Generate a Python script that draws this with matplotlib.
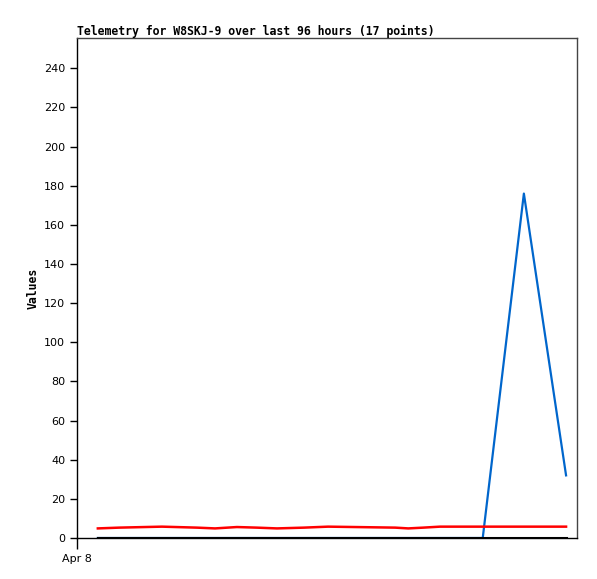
import matplotlib
matplotlib.use("Agg")
import matplotlib.pyplot as plt

# hours since Apr 8 00:00 (axis spans 96 hours)
hours = [4.0, 8.1, 16.3, 23.0, 26.5, 30.7, 34.5, 38.4, 43.6, 48.2, 61.1, 63.6, 66.5, 69.7, 77.9, 85.8, 93.9]
red = [4.9, 5.3, 5.8, 5.3, 4.9, 5.6, 5.3, 4.9, 5.3, 5.8, 5.3, 4.9, 5.3, 5.8, 5.8, 5.8, 5.8]
blue = [0, 0, 0, 0, 0, 0, 0, 0, 0, 0, 0, 0, 0, 0, 0, 176, 32]
black = [0] * 17

fig = plt.figure(figsize=(5.97, 5.79), dpi=100)
ax = fig.add_axes([77 / 597, 1 - 538 / 579, 500 / 597, 500 / 579])

ax.plot(hours, blue, color="#0066cc", lw=1.6)
ax.plot(hours, red, color="#ff0000", lw=1.8)
ax.plot(hours, black, color="#000000", lw=2.2)

ax.set_xlim(0, 96)
ax.set_ylim(0, 255.5)
ax.set_yticks(range(0, 241, 20))
ax.set_xticks([0])
ax.set_xticklabels(["Apr 8"])
ax.tick_params(axis="both", direction="out", length=5, width=1, labelsize=8)
ax.tick_params(axis="x", length=8)

for s in ["top", "right"]:
    ax.spines[s].set_color("#444444")
for s in ax.spines.values():
    s.set_linewidth(1)

ax.set_title("Telemetry for W8SKJ-9 over last 96 hours (17 points)",
             loc="left", fontsize=8.3, fontweight="bold", family="DejaVu Sans Mono", pad=2)
ax.set_ylabel("Values", fontsize=8.3, fontweight="bold", family="DejaVu Sans Mono", labelpad=3)

fig.savefig("out.png", dpi=100)
